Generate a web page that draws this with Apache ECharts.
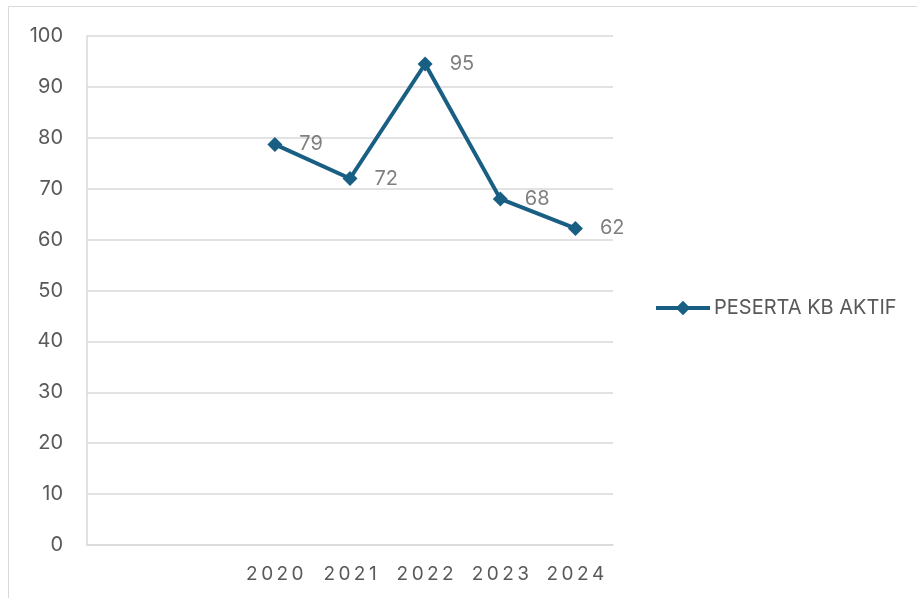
<!DOCTYPE html>
<html><head><meta charset="utf-8">
<script src="https://cdn.jsdelivr.net/npm/echarts@6/dist/echarts.min.js"></script>
<style>html,body{margin:0;padding:0;background:#fff}#c{width:917px;height:598px}</style>
</head><body><div id="c"></div>
<script>
const categories = ['', '', '2020', '2021', '2022', '2023', '2024'];
const seriesName = 'PESERTA KB AKTIF';
const values = [null, null, 78.7, 72.0, 94.5, 68.0, 62.2];
const yTicks = { min: 0, max: 100, interval: 10 };

const chart = echarts.init(document.getElementById('c'));
const FONT = 'Inter';
chart.setOption({
  animation: false,
  backgroundColor: '#fff',
  graphic: [{ type: 'rect', shape: { x: 8.5, y: 6.5, width: 2000, height: 2000 }, style: { fill: 'none', stroke: '#d9d9d9', lineWidth: 1 }, silent: true }],
  grid: { left: 87, right: 304, top: 36, bottom: 53 },
  legend: {
    left: 649, top: 293, itemWidth: 54, itemHeight: 18, itemGap: 4,
    lineStyle: { width: 4 },
    textStyle: { fontFamily: FONT, fontSize: 20, color: '#595959', padding: [0, 0, 0, -1] },
    data: [seriesName]
  },
  xAxis: {
    type: 'category', data: categories, boundaryGap: true,
    axisLine: { show: true, lineStyle: { color: '#d9d9d9', width: 1.5 } },
    axisTick: { show: false },
    axisLabel: { margin: 20, fontFamily: FONT, fontSize: 19, color: '#595959',
      formatter: v => v.split('').join('\u2009') }
  },
  yAxis: {
    type: 'value', min: yTicks.min, max: yTicks.max, interval: yTicks.interval,
    axisLine: { show: true, lineStyle: { color: '#d9d9d9', width: 1.5 } },
    axisTick: { show: false },
    splitLine: { lineStyle: { color: '#d9d9d9', width: 1.5 } },
    axisLabel: { margin: 24, fontFamily: FONT, fontSize: 20, color: '#595959' }
  },
  series: [{
    name: seriesName, type: 'line', data: values,
    symbol: 'diamond', symbolSize: 15,
    lineStyle: { color: '#195e83', width: 4 },
    itemStyle: { color: '#195e83' },
    label: { show: true, position: 'right', distance: 17, fontFamily: FONT, fontSize: 20, color: '#808080',
      formatter: p => Math.round(p.value) }
  }]
});
</script></body></html>
